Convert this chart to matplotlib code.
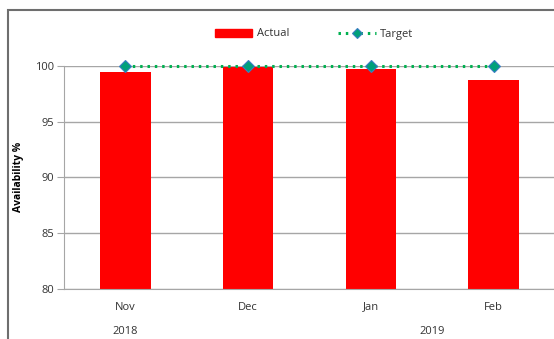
import matplotlib.pyplot as plt
from matplotlib.patches import Rectangle
from matplotlib.lines import Line2D

months = ['Nov', 'Dec', 'Jan', 'Feb']
actual = [99.4, 99.9, 99.7, 98.7]
target = [100, 100, 100, 100]
years = ['2018', '2019']

plt.rcParams['font.family'] = 'Open Sans'
plt.rcParams['font.size'] = 8

W, H = 554, 339
fig = plt.figure(figsize=(W / 100, H / 100), dpi=100)
ax = fig.add_axes([64 / W, 50 / H, 491 / W, 223.3 / H])

dots = (0, (0.8, 1.6))
x = list(range(len(months)))
ax.bar(x, actual, width=0.41, color='#FF0000', zorder=2, label='Actual')
ax.plot(x, target, linestyle=dots, color='#00B050', linewidth=2.2,
        marker='D', markersize=6.5, markerfacecolor='#00A07A',
        markeredgecolor='#3B7DC4', markeredgewidth=0.8, zorder=3,
        clip_on=False, label='Target')

ax.set_ylim(80, 100)
ax.set_xlim(-0.5, 3.5)
ax.set_yticks([80, 85, 90, 95, 100])
ax.yaxis.grid(True, color='#A6A6A6', linewidth=1)
ax.set_axisbelow(True)
for s in ['top', 'right']:
    ax.spines[s].set_visible(False)
ax.spines['left'].set_color('#A6A6A6')
ax.spines['bottom'].set_color('#A6A6A6')
ax.tick_params(axis='y', length=5, color='#A6A6A6', labelcolor='#333333', pad=2)
ax.tick_params(axis='x', length=0, labelcolor='#333333', pad=9)
ax.set_xticks(x)
ax.set_xticklabels(months)
ax.set_ylabel('Availability %', fontweight='bold', fontsize=7.5, labelpad=8)

# year row under the month labels
ax.text(0, -0.19, years[0], transform=ax.get_xaxis_transform(), ha='center', va='center', color='#333333')
ax.text(2.5, -0.19, years[1], transform=ax.get_xaxis_transform(), ha='center', va='center', color='#333333')

handles = [Rectangle((0, 0), 1, 1, color='#FF0000'),
           Line2D([], [], linestyle=dots, color='#00B050', linewidth=2.2,
                  marker='D', markersize=5.5, markerfacecolor='#00A07A',
                  markeredgecolor='#3B7DC4', markeredgewidth=0.8)]
fig.legend(handles, ['Actual', 'Target'], loc='center', bbox_to_anchor=(314 / W, 1 - 34 / H),
           ncol=2, frameon=False, handlelength=3.4, handleheight=0.7, columnspacing=4.4,
           handletextpad=0.4, labelcolor='#333333')

# outer chart frame
fig.patches.append(Rectangle((8 / W, -0.1), 1.2, 1 - 10 / H + 0.1, transform=fig.transFigure,
                             fill=False, edgecolor='#6E6E6E', linewidth=1.5))

fig.savefig('out.png', dpi=100)
